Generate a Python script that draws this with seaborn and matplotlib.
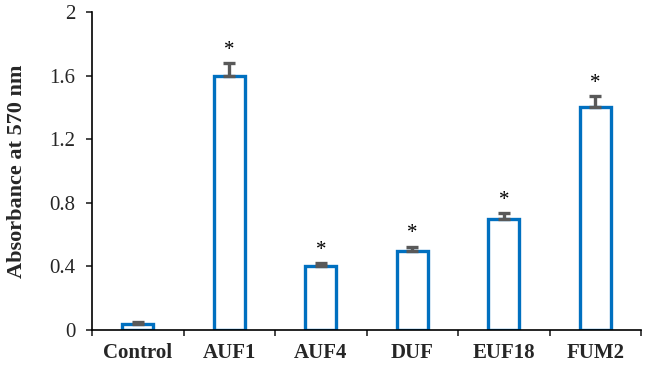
import numpy as np
import pandas as pd
import matplotlib
matplotlib.use("Agg")
import matplotlib.pyplot as plt
import seaborn as sns

# data
muestras = ["Control", "AUF1", "AUF4", "DUF", "EUF18", "FUM2"]
absorbancia = [0.04, 1.60, 0.40, 0.50, 0.70, 1.40]
error_sup = [0.01, 0.08, 0.02, 0.025, 0.035, 0.07]
signif = ["", "*", "*", "*", "*", "*"]

df = pd.DataFrame({"muestra": muestras, "abs": absorbancia})

sns.set_style("ticks")
plt.rcParams["font.family"] = ["Liberation Serif", "DejaVu Serif"]

fig = plt.figure(figsize=(6.46, 3.65), dpi=100)
ax = fig.add_axes([92 / 646, 35 / 365, 549 / 646, 318 / 365])

sns.barplot(data=df, x="muestra", y="abs", fill=False, color="#0070C0",
            linewidth=2.4, width=0.34, errorbar=None, ax=ax)
for p in ax.patches:
    p.set_edgecolor("#0070C0")

x = np.arange(len(muestras))
ax.errorbar(x, absorbancia, yerr=[np.zeros(len(x)), error_sup], fmt="none",
            ecolor="#595959", elinewidth=2.4, capsize=4, capthick=2.4)

for i, (v, e, s) in enumerate(zip(absorbancia, error_sup, signif)):
    if s:
        ax.text(i, v + e + 0.02, s, ha="center", va="bottom", fontsize=15,
                color="black")

ax.set_ylim(0, 2)
ax.set_yticks([0, 0.4, 0.8, 1.2, 1.6, 2.0])
ax.set_yticklabels(["0", "0.4", "0.8", "1.2", "1.6", "2"])
ax.set_xlim(-0.5, len(muestras) - 0.5)
# ticks between categories on the x axis
ax.set_xticks(np.arange(-0.5, len(muestras), 1.0), minor=False)
ax.set_xticklabels([])
ax.set_xticks(x, minor=True)
ax.set_xticklabels(muestras, minor=True, fontweight="bold", fontsize=15)
ax.tick_params(axis="x", which="minor", length=0, pad=9)
ax.tick_params(axis="x", which="major", length=4, width=1.2, direction="out")
ax.tick_params(axis="y", labelsize=15, length=4, width=1.2, direction="out", pad=8)

ax.set_xlabel("")
ax.set_ylabel("Absorbance at 570 nm", fontsize=16, fontweight="bold", labelpad=16)
sns.despine(ax=ax)
for sp in ["left", "bottom"]:
    ax.spines[sp].set_linewidth(1.2)
    ax.spines[sp].set_color("black")

fig.savefig("out.png", dpi=100)
